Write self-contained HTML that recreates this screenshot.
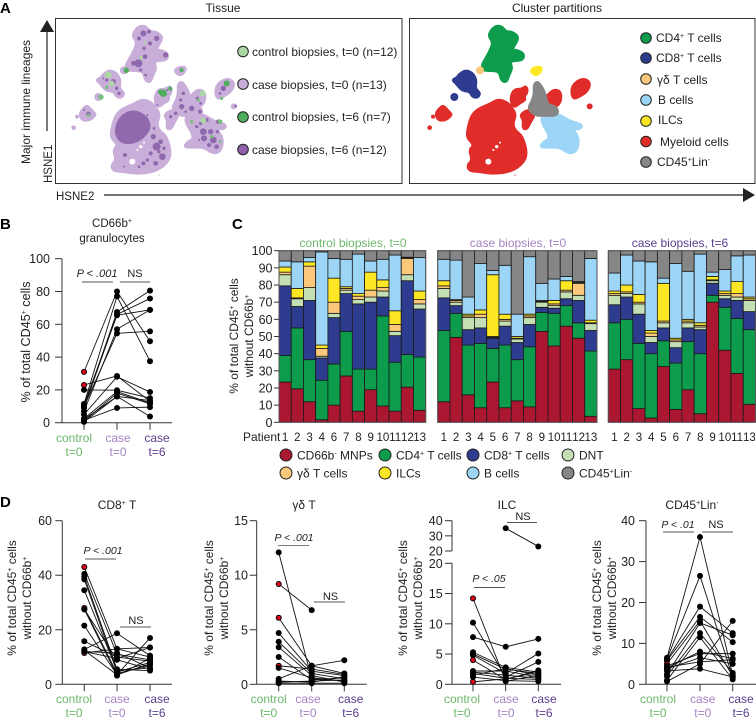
<!DOCTYPE html>
<html lang="en">
<head>
<meta charset="utf-8">
<title>Immune lineage figure</title>
<style>
html,body{margin:0;padding:0;background:#fff}
svg{display:block;font-family:"Liberation Sans","DejaVu Sans",sans-serif;fill:#222}
text{fill:#222}
.panel{font-weight:bold;font-size:15px;fill:#000}
.ctl{fill:#6cb86a}.cs0{fill:#a583c4}.cs6{fill:#5c3d8f}
</style>
</head>
<body>
<svg id="fig" width="756" height="718" viewBox="0 0 756 718" xmlns="http://www.w3.org/2000/svg">
<!-- Panel letters -->
<text class="panel" x="0" y="13">A</text>
<text class="panel" x="0" y="229">B</text>
<text class="panel" x="232" y="229">C</text>
<text class="panel" x="0" y="507">D</text>

<!-- Panel A frame -->
<text x="223" y="12" font-size="12" text-anchor="middle">Tissue</text>
<text x="557" y="12" font-size="12" text-anchor="middle">Cluster partitions</text>
<g id="tissueMap"></g>
<g id="partitionMap"></g>
<rect x="55.5" y="18.5" width="346.5" height="165" fill="none" stroke="#333" stroke-width="1"/>
<rect x="409.5" y="18.5" width="345.5" height="165" fill="none" stroke="#333" stroke-width="1"/>
<line x1="47" y1="131" x2="47" y2="30" stroke="#222" stroke-width="1.2"/>
<polygon points="47,20 40,32 54,32" fill="#222"/>
<line x1="104" y1="195" x2="745" y2="195" stroke="#222" stroke-width="1.2"/>
<polygon points="755,195 743,188 743,202" fill="#222"/>
<text x="56" y="200" font-size="11.5">HSNE2</text>
<text transform="translate(52,183) rotate(-90)" font-size="11.5">HSNE1</text>
<text transform="translate(30,164) rotate(-90)" font-size="12">Major immune lineages</text>

<!-- Tissue legend -->
<g font-size="12">
<circle cx="243" cy="51.5" r="5.3" fill="#a9d8a2" stroke="#222"/>
<text x="252" y="56">control biopsies, t=0 (n=12)</text>
<circle cx="243" cy="84" r="5.3" fill="#c8aed9" stroke="#222"/>
<text x="252" y="89">case biopsies, t=0 (n=13)</text>
<circle cx="243" cy="117" r="5.3" fill="#4fae5e" stroke="#222"/>
<text x="252" y="121">control biopsies, t=6 (n=7)</text>
<circle cx="243" cy="149.5" r="5.3" fill="#8f60a9" stroke="#222"/>
<text x="252" y="154">case biopsies, t=6 (n=12)</text>
</g>

<!-- Cluster legend -->
<g font-size="12">
<circle cx="646" cy="38" r="5.3" fill="#0c9c4c" stroke="#222"/>
<text x="656" y="42">CD4<tspan dy="-4" font-size="7">+</tspan><tspan dy="4"> T cells</tspan></text>
<circle cx="646" cy="58" r="5.3" fill="#2e3c90" stroke="#222"/>
<text x="656" y="62">CD8<tspan dy="-4" font-size="7">+</tspan><tspan dy="4"> T cells</tspan></text>
<circle cx="646" cy="79" r="5.3" fill="#fbc77a" stroke="#222"/>
<text x="657" y="84">γδ T cells</text>
<circle cx="646" cy="100" r="5.3" fill="#9cd5f5" stroke="#222"/>
<text x="658" y="104">B cells</text>
<circle cx="646" cy="121" r="5.3" fill="#fde725" stroke="#222"/>
<text x="658" y="124">ILCs</text>
<circle cx="646" cy="141.5" r="5.3" fill="#e12d2a" stroke="#222"/>
<text x="660" y="146">Myeloid cells</text>
<circle cx="646" cy="162" r="5.3" fill="#868686" stroke="#222"/>
<text x="657" y="166">CD45<tspan dy="-4" font-size="7">+</tspan><tspan dy="4">Lin</tspan><tspan dy="-4" font-size="7">-</tspan></text>
</g>

<!-- Panel B static text -->
<text x="112" y="227" font-size="11.5" text-anchor="middle">CD66b<tspan dy="-4" font-size="7">+</tspan></text>
<text x="112" y="242" font-size="11.5" text-anchor="middle">granulocytes</text>
<text transform="translate(30,342) rotate(-90)" font-size="12.6" text-anchor="middle">% of total CD45<tspan dy="-4" font-size="7">+</tspan><tspan dy="4"> cells</tspan></text>
<text x="97" y="277" font-size="11" font-style="italic" text-anchor="middle">P &lt; .001</text>
<text x="135" y="277" font-size="11" text-anchor="middle">NS</text>
<line x1="82" y1="282" x2="113" y2="282" stroke="#555"/>
<line x1="120" y1="282" x2="150" y2="282" stroke="#555"/>

<!-- Panel C static text -->
<text transform="translate(238,336) rotate(-90)" font-size="12" text-anchor="middle">% of total CD45<tspan dy="-4" font-size="7">+</tspan><tspan dy="4"> cells</tspan></text>
<text transform="translate(253,336) rotate(-90)" font-size="12" text-anchor="middle">without CD66b<tspan dy="-4" font-size="7">+</tspan></text>
<text class="ctl" x="353" y="247" font-size="12" text-anchor="middle">control biopsies, t=0</text>
<text class="cs0" x="518" y="247" font-size="12" text-anchor="middle">case biopsies, t=0</text>
<text class="cs6" x="680" y="247" font-size="12" text-anchor="middle">case biopsies, t=6</text>
<text x="243" y="441" font-size="12">Patient</text>

<g font-size="12">
<circle cx="286" cy="455" r="6" fill="#ab1730" stroke="#222"/>
<text x="297" y="459.5">CD66b<tspan dy="-4" font-size="7">-</tspan><tspan dy="4"> MNPs</tspan></text>
<circle cx="385" cy="455" r="6" fill="#0c9c4c" stroke="#222"/>
<text x="396" y="459.5">CD4<tspan dy="-4" font-size="7">+</tspan><tspan dy="4"> T cells</tspan></text>
<circle cx="473" cy="455" r="6" fill="#2e3c90" stroke="#222"/>
<text x="484" y="459.5">CD8<tspan dy="-4" font-size="7">+</tspan><tspan dy="4"> T cells</tspan></text>
<circle cx="568" cy="455" r="6" fill="#c5dfb5" stroke="#222"/>
<text x="579" y="459.5">DNT</text>
<circle cx="286" cy="473" r="6" fill="#fbc77a" stroke="#222"/>
<text x="297" y="477.5">γδ T cells</text>
<circle cx="385" cy="473" r="6" fill="#fde725" stroke="#222"/>
<text x="396" y="477.5">ILCs</text>
<circle cx="473" cy="473" r="6" fill="#9cd5f5" stroke="#222"/>
<text x="484" y="477.5">B cells</text>
<circle cx="568" cy="473" r="6" fill="#868686" stroke="#222"/>
<text x="579" y="477.5">CD45<tspan dy="-4" font-size="7">+</tspan><tspan dy="4">Lin</tspan><tspan dy="-4" font-size="7">-</tspan></text>
</g>

<!-- Panel D static text -->
<text x="117" y="509" font-size="12" text-anchor="middle">CD8<tspan dy="-4" font-size="7">+</tspan><tspan dy="4"> T</tspan></text>
<text transform="translate(16,598) rotate(-90)" font-size="12" text-anchor="middle">% of total CD45<tspan dy="-4" font-size="7">+</tspan><tspan dy="4"> cells</tspan></text>
<text transform="translate(31,598) rotate(-90)" font-size="12" text-anchor="middle">without CD66b<tspan dy="-4" font-size="7">+</tspan></text>
<text x="103" y="554" font-size="10.5" font-style="italic" text-anchor="middle">P &lt; .001</text>
<line x1="85" y1="559" x2="116" y2="559" stroke="#555"/>
<text x="136" y="624" font-size="11" text-anchor="middle">NS</text>
<line x1="120" y1="627" x2="151" y2="627" stroke="#555"/>

<text x="304" y="509" font-size="12" text-anchor="middle">γδ T</text>
<text transform="translate(213,598) rotate(-90)" font-size="12" text-anchor="middle">% of total CD45<tspan dy="-4" font-size="7">+</tspan><tspan dy="4"> cells</tspan></text>
<text transform="translate(228,598) rotate(-90)" font-size="12" text-anchor="middle">without CD66b<tspan dy="-4" font-size="7">+</tspan></text>
<text x="294" y="541" font-size="10.5" font-style="italic" text-anchor="middle">P &lt; .001</text>
<line x1="278" y1="545.5" x2="309" y2="545.5" stroke="#777"/>
<text x="330.5" y="600" font-size="11" text-anchor="middle">NS</text>
<line x1="314" y1="602" x2="345" y2="602" stroke="#555"/>

<text x="507" y="509" font-size="12" text-anchor="middle">ILC</text>
<text transform="translate(407,598) rotate(-90)" font-size="12" text-anchor="middle">% of total CD45<tspan dy="-4" font-size="7">+</tspan><tspan dy="4"> cells</tspan></text>
<text transform="translate(422,598) rotate(-90)" font-size="12" text-anchor="middle">without CD66b<tspan dy="-4" font-size="7">+</tspan></text>
<text x="489" y="582" font-size="10.5" font-style="italic" text-anchor="middle">P &lt; .05</text>
<line x1="474" y1="587.5" x2="505" y2="587.5" stroke="#555"/>
<text x="523" y="520" font-size="11" text-anchor="middle">NS</text>
<line x1="507" y1="522.5" x2="537" y2="522.5" stroke="#555"/>

<text x="692" y="509" font-size="12" text-anchor="middle">CD45<tspan dy="-4" font-size="7">+</tspan><tspan dy="4">Lin</tspan><tspan dy="-4" font-size="7">-</tspan></text>
<text transform="translate(601,598) rotate(-90)" font-size="12" text-anchor="middle">% of total CD45<tspan dy="-4" font-size="7">+</tspan><tspan dy="4"> cells</tspan></text>
<text transform="translate(616,598) rotate(-90)" font-size="12" text-anchor="middle">without CD66b<tspan dy="-4" font-size="7">+</tspan></text>
<text x="678" y="528" font-size="10.5" font-style="italic" text-anchor="middle">P &lt; .01</text>
<line x1="663" y1="532" x2="694" y2="532" stroke="#555"/>
<text x="716" y="528" font-size="11" text-anchor="middle">NS</text>
<line x1="702" y1="532" x2="733" y2="532" stroke="#555"/>
</svg>

<script>
/* ---------- Panel A: HSNE embedding outlines [hsne2, hsne1] and dots [hsne2, hsne1, radius] ---------- */
const cd4Outline = [[270,95],[285,78],[305,78],[318,95],[335,95],[357,110],[345,135],[335,150],[350,150],[372,160],[370,180],[345,182],[330,185],[337,205],[327,225],[320,247],[303,242],[298,215],[275,212],[248,212],[245,195],[260,170],[273,145],[278,125],[266,110]];
const cd8Outline = [[175,225],[195,210],[217,218],[230,240],[225,265],[242,280],[232,294],[216,290],[210,275],[185,272],[168,250],[156,240],[172,232]];
const cd8Dots = [[163,291,12]];
const gdDots = [[240,211,12]];
const ilcOutline = [[390,212],[405,201],[427,201],[420,220],[405,227]];
const greyOutline = [[401,255],[412,243],[427,262],[437,285],[442,315],[472,320],[474,347],[435,347],[405,347],[383,325],[398,300],[403,275]];
const bOutline = [[423,350],[450,343],[480,343],[507,363],[547,373],[542,387],[517,387],[532,405],[537,430],[527,457],[505,460],[480,442],[450,442],[418,442],[433,423],[448,418],[443,395],[428,375]];
const myeloidMainOutline = [[201,395],[212,350],[232,327],[270,312],[295,297],[322,307],[338,325],[348,345],[338,372],[347,393],[368,408],[383,465],[362,498],[322,518],[270,521],[240,515],[207,513],[202,495],[217,480],[207,450],[222,435],[202,415]];
const myeloidArmA = [[333,285],[345,267],[365,268],[378,257],[384,275],[372,290],[377,300],[355,312],[345,322],[333,310]];
const myeloidArmB = [[433,295],[460,268],[482,273],[484,300],[472,320],[450,317],[433,312]];
const myeloidArmC = [[360,345],[380,330],[402,333],[402,350],[392,365],[382,387],[368,387],[370,360]];
const myeloidRight = [[513,265],[530,243],[555,235],[572,250],[562,275],[535,292],[518,297]];
const myeloidLeft = [[106,340],[120,323],[130,316],[147,335],[157,345],[135,362],[113,360]];
const myeloidDots = [[569,319,9],[99,350,6],[89,383,7],[345,525,2]];
const holeDots = [[265,485,9],[290,440,5],[300,428,3],[280,450,3]];
const tissueDarkOutline = [[213,395],[228,350],[268,330],[308,350],[318,380],[308,400],[288,420],[258,430],[228,425]];
const tissueDarkDots = [[338,440,12],[355,470,10],[328,410,8],[298,490,6],[243,465,6],[350,425,7],[320,460,6],[335,490,7],[310,480,5],[360,445,5],[285,500,4],[345,455,5],
  [298,100,9],[285,115,6],[338,115,8],[315,95,6],[283,190,12],[268,190,7],[303,170,7],[365,165,8],[318,130,6],[300,145,5],[290,210,5],[305,225,4],
  [208,245,8],[218,265,5],[188,240,5],[178,235,3],[225,280,5],[538,265,8],[550,250,4],[528,280,4],
  [418,280,5],[410,300,5],[413,320,8],[443,325,8],[468,335,6],[425,335,4],[395,340,5],[380,350,5],[460,295,5],[470,310,4],
  [478,395,10],[508,420,10],[523,365,7],[458,380,5],[488,360,6],[518,440,7],[480,415,9],[500,395,8],[495,435,6],[470,370,5],[520,395,5],[465,420,3],
  [133,342,7],[120,330,3],[575,318,4],[355,280,3],[370,270,3],[340,315,3],[410,210,4],[310,375,5],[330,385,4],[310,345,3],[240,500,3]];
const tissueLightGreen = [[476,280,9],[478,362,9],[193,225,10],[203,250,8],[303,128,4],[291,173,5]];
const tissueMidGreen = [[171,291,8],[188,262,5],[133,345,5],[528,365,7],[503,410,5],[533,295,5],[528,425,4],[463,300,5],[443,365,5]];
const tissueDarkGreen = [[247,211,8],[358,280,11],[379,266,6],[548,250,9],[413,210,6],[350,276,8]];

function tissueX(h){return 44+h/3}
function partitionX(h){return 400+h/3}
function hsneY(h){return h/3}
function hsneR(h){return h/3}

const NS='http://www.w3.org/2000/svg';
const fig=document.getElementById('fig');
function make(tag,parent,attrs,txt){
  const el=document.createElementNS(NS,tag);
  for(const k in attrs)el.setAttribute(k,attrs[k]);
  if(txt!==undefined)el.textContent=txt;
  parent.appendChild(el);
  return el;
}
const tissueMap=document.getElementById('tissueMap');
const partitionMap=document.getElementById('partitionMap');

function drawDots(parent,dots,xf,color,name){
  dots.forEach(function(b){
    const el=make('circle',parent,{cx:xf(b[0]),cy:hsneY(b[1]),r:hsneR(b[2]),fill:color});
    
    
  });
}
/* smooth closed outline: quadratic curves through edge midpoints */
function drawOutline(parent,outline,xf,color,name){
  const pts=outline.map(function(p){return [xf(p[0]),hsneY(p[1])]});
  const n=pts.length;
  function mid(a,b){return ((a[0]+b[0])/2)+','+((a[1]+b[1])/2)}
  let d='M'+mid(pts[n-1],pts[0]);
  for(let i=0;i<n;i++){
    d+=' Q'+pts[i][0]+','+pts[i][1]+' '+mid(pts[i],pts[(i+1)%n]);
  }
  d+='Z';
  const el=make('path',parent,{d:d,fill:color,stroke:color,'stroke-width':2.5,'stroke-linejoin':'round'});
  
  
}
const tissueLight='#c8aed9';
[cd4Outline,cd8Outline,ilcOutline,greyOutline,bOutline,myeloidMainOutline,myeloidArmA,myeloidArmB,myeloidArmC,myeloidRight,myeloidLeft].forEach(function(o){
  drawOutline(tissueMap,o,tissueX,tissueLight,'tissue-cell-cloud');
});
drawDots(tissueMap,cd8Dots,tissueX,tissueLight,'tissue-cell-cloud-dot');
drawDots(tissueMap,gdDots,tissueX,tissueLight,'tissue-cell-cloud-dot');
drawDots(tissueMap,myeloidDots,tissueX,tissueLight,'tissue-cell-cloud-dot');
drawDots(tissueMap,holeDots,tissueX,'#ffffff','tissue-gap');
drawOutline(tissueMap,tissueDarkOutline,tissueX,'#9068ad','tissue-case-t6-core');
drawDots(tissueMap,tissueDarkDots,tissueX,'#9068ad','tissue-case-t6-cells');
drawDots(tissueMap,tissueLightGreen,tissueX,'#a9d8a2','tissue-control-t0-cells');
drawDots(tissueMap,tissueMidGreen,tissueX,'#74c07a','tissue-control-mid-cells');
drawDots(tissueMap,tissueDarkGreen,tissueX,'#4fae5e','tissue-control-t6-cells');

[myeloidMainOutline,myeloidArmA,myeloidArmB,myeloidArmC,myeloidRight,myeloidLeft].forEach(function(o){
  drawOutline(partitionMap,o,partitionX,'#e12d2a','myeloid-cluster');
});
drawDots(partitionMap,myeloidDots,partitionX,'#e12d2a','myeloid-cluster-dot');
drawDots(partitionMap,holeDots,partitionX,'#ffffff','myeloid-gap');
drawOutline(partitionMap,bOutline,partitionX,'#9cd5f5','b-cluster');
drawOutline(partitionMap,greyOutline,partitionX,'#868686','lin-cluster');
drawOutline(partitionMap,cd4Outline,partitionX,'#0c9c4c','cd4-cluster');
drawOutline(partitionMap,cd8Outline,partitionX,'#2e3c90','cd8-cluster');
drawDots(partitionMap,cd8Dots,partitionX,'#2e3c90','cd8-cluster-dot');
drawDots(partitionMap,gdDots,partitionX,'#fbc77a','gd-cluster');
drawOutline(partitionMap,ilcOutline,partitionX,'#fde725','ilc-cluster');

/* ---------- Panel B values: [control t0, case t0, case t6] ---------- */
const bRows = [[31,80,49.7],[11.5,77,37.5],[9.5,67.5,80.5],[9,66,75.7],[11,65.5,68.8],[7,57,68.8],[9.8,54.5,55.7],[23,28.5,13],[20,19.8,15],[5,28,18.7],[2.5,19,12],[1,18,11.5],[0.5,16,13.5],[1.5,9,9.5],[2,16,3.8]];
const bRedFlags = [1,1,0,0,0,0,0,1,0,0,0,0,0,0,0];
const bTicks = [0,20,40,60,80,100];

/* ---------- Panel D values ---------- */
const d1Rows = [[43,13,10],[40.5,11,9],[39.5,5.5,5],[38.5,4.5,8],[34.5,5,6],[28,4,7],[27.5,3.2,9.5],[27.5,9,5.5],[21.5,3.5,7.5],[15.8,10,8.5],[12.8,18.7,10.5],[12,9.5,13.5],[11.5,13,13.5],[12.5,3.5,17],[12,11.5,6]];
const d1RedFlags = [1,0,0,0,0,1,0,0,0,0,0,0,1,0,0];
const d1Ticks = [0,20,40,60];

const d2Rows = [[12.1,0.5,0.3],[9.2,6.8,null],[6.1,1.7,1],[4.7,1.2,0.8],[3.9,1,0.5],[3.4,0.8,0.2],[2.5,0.4,0.6],[1.7,1.4,0.9],[1.5,0.6,0.3],[0.5,1.7,2.2],[0.3,0.2,0.7],[0.2,0.3,0.4],[0.1,0.1,0.1]];
const d2RedFlags = [0,1,1,0,0,0,0,1,0,0,0,0,0];
const d2Ticks = [0,5,10,15];

const d3Rows = [[14.2,0.5,1.5],[10.2,1.2,3.7],[7.8,6.2,7.5],[5.3,2.8,2],[5,2.5,1.8],[4.8,1.8,5.1],[4,0.8,2.3],[2.2,2.2,1.2],[2,1.5,1],[1.8,1,0.8],[1.5,2.6,1.5],[1.2,0.6,0.5],[0.4,0.9,2],[null,35,23]];
const d3RedFlags = [1,0,0,0,0,0,1,0,0,0,0,0,1,0];
const d3LowerTicks = [0,5,10,15,20];
const d3UpperTicks = [20,30,40];

const d4Rows = [[6.5,36,2.3],[6.2,26.5,1.8],[6,19,12.5],[5.8,16.5,10.3],[5,15.5,2],[4.5,7.5,7.5],[4,8,6.3],[3.8,6.5,5],[2.5,15,12],[2,12.5,2.8],[1,11.5,1.2],[0.7,5,15.5],[4.2,5.5,6],[3.3,3.8,1.8]];
const d4RedFlags = [0,0,0,0,1,0,0,0,0,0,0,0,0,0];
const d4Ticks = [0,10,20,30,40];

function drawAxis(prefix,axX,yTop,yBot,xEnd,tickVals,yf,labelX,cats){
  let el=make('line',fig,{x1:axX,y1:yTop,x2:axX,y2:yBot,stroke:'#333'});
  
  
  el=make('line',fig,{x1:axX,y1:yBot,x2:xEnd,y2:yBot,stroke:'#333'});
  
  
  tickVals.forEach(function(v){
    const t=make('line',fig,{x1:axX-7,y1:yf(v),x2:axX,y2:yf(v),stroke:'#333'});
    
    
    const l=make('text',fig,{x:labelX,y:yf(v)+4.5,'font-size':12.5,'text-anchor':'end'},String(v));
    
    
  });
  cats.forEach(function(c){
    const t=make('line',fig,{x1:c,y1:yBot,x2:c,y2:yBot+7,stroke:'#333'});
    
    
  });
}
function drawCats(prefix,ctlX,cs0X,cs6X,y1,y2){
  const rows=[['control','t=0',ctlX,'ctl'],['case','t=0',cs0X,'cs0'],['case','t=6',cs6X,'cs6']];
  rows.forEach(function(r){
    const a=make('text',fig,{x:r[2],y:y1,'font-size':12,'text-anchor':'middle',class:r[3]},r[0]);
    
    
    const b=make('text',fig,{x:r[2],y:y2,'font-size':12,'text-anchor':'middle',class:r[3]},r[1]);
    
    
  });
}
function drawPairs(prefix,rows,flags,yf,xs){
  rows.forEach(function(row){
    for(let i=0;i<2;i++){
      if(row[i]===null||row[i+1]===null)continue;
      const ln=make('line',fig,{x1:xs[i],y1:yf(row[i]),x2:xs[i+1],y2:yf(row[i+1]),stroke:'#111','stroke-width':0.9});
      
      
    }
  });
  rows.forEach(function(row,ri){
    row.forEach(function(v,i){
      if(v===null)return;
      const red=(i===0&&flags[ri]);
      const c=make('circle',fig,{cx:xs[i],cy:yf(v),r:3,fill:'#000'});
      
      
      if(red){
        const d=make('circle',fig,{cx:xs[i],cy:yf(v),r:2,fill:'#e3061b'});
        
        
      }
    });
  });
}
function linY(max,yTop,yBot){return function(v){return yBot-(v/max)*(yBot-yTop)}}

/* B */
const bY=linY(100,258.7,422.7);
const bX=[84,117,150];
drawAxis('b',62,258.7,422.7,172,bTicks,bY,50,bX);
drawCats('b',74,118,157,442,456);
drawPairs('b',bRows,bRedFlags,bY,bX);

/* D1 */
const d1Y=linY(60,520.7,684.3);
const d1X=[84.3,117,150];
drawAxis('d1',62.3,520.7,684.3,172,d1Ticks,d1Y,52,d1X);
drawCats('d1',74,117,157,703,717);
drawPairs('d1',d1Rows,d1RedFlags,d1Y,d1X);

/* D2 */
const d2Y=linY(15,520.7,684.3);
const d2X=[278.7,311.7,344.3];
drawAxis('d2',256.7,520.7,684.3,366.7,d2Ticks,d2Y,248,d2X);
drawCats('d2',268.7,308,350.7,703,717);
drawPairs('d2',d2Rows,d2RedFlags,d2Y,d2X);

/* D3: broken axis */
function d3Y(v){return 684.3-(v/20)*121}
function d3UpperY(v){return 551-((v-20)/20)*30.3}
function d3Pt(v){return v>20?d3UpperY(v):d3Y(v)}
const d3X=[473,505.7,538.3];
drawAxis('d3',452,563.3,684.3,561,d3LowerTicks,d3Y,442.7,d3X);
let d3Seg=make('line',fig,{x1:452,y1:d3UpperY(40),x2:452,y2:d3UpperY(20),stroke:'#333'});


d3UpperTicks.forEach(function(v){
  const t=make('line',fig,{x1:445,y1:d3UpperY(v),x2:452,y2:d3UpperY(v),stroke:'#333'});
  
  
  const l=make('text',fig,{x:442.7,y:d3UpperY(v)+4.5,'font-size':12.5,'text-anchor':'end'},String(v));
  
  
});
drawCats('d3',462,506,544,703,717);
drawPairs('d3',d3Rows,d3RedFlags,d3Pt,d3X);

/* D4 */
const d4Y=linY(40,520.7,684.3);
const d4X=[667,700,732.7];
drawAxis('d4',646,520.7,684.3,756,d4Ticks,d4Y,635,d4X);
drawCats('d4',658,702.7,741,703,717);
drawPairs('d4',d4Rows,d4RedFlags,d4Y,d4X);

/* ---------- Panel C: cumulative tops per patient, bottom to top:
   MNP, CD4, CD8, DNT, gd, ILC, B, Lin ---------- */
const stackColors = ['#ab1730','#0c9c4c','#2e3c90','#c5dfb5','#fbc77a','#fde725','#9cd5f5','#868686'];
const stackNames = ['mnp','cd4','cd8','dnt','gd','ilc','b','lin'];
const controlPatients = ['1','2','3','4','6','7','8','9','10','11','12','13'];
const controlTops = [
 [23.5,39,79.5,86,87.5,90.5,94,100],[19.5,55,67.5,72,72.5,78,93.5,100],[12,36.5,71,78.5,91,93.5,96,100],[1.5,24.5,37.5,38.5,43,45,99.3,100],
 [10,34,61,63.5,70,84,95.5,100],[27,53,75,77,78,79,95,100],[6.5,31,69,71.5,73.5,75,98,100],[19,31,70,73,77,87.5,94,100],
 [9.5,62,73,76.5,78.5,83,95,100],[6.5,35,50.5,53,57,65,97.5,100],[20.5,39.5,82.5,86,95.5,96,96.2,100],[7,38,66,69,71.5,76.5,96,100]];
const caseT0Patients = ['1','2','3','4','5','6','7','8','9','10','11','12','13'];
const caseT0Tops = [
 [12,53.5,72.5,78,79.5,82.5,95,100],[49.5,63.5,68,70,71,71.5,94.5,100],[16,45,54,61,62,63,73,100],[8.5,46,55,61,63,65.5,92.5,100],
 [23.5,43,49,49.5,50,86,88.5,100],[8.5,45,56,59,60,63,91.5,100],[12.5,36.5,46.5,48.5,49,50,63,100],[9,44,57,61,62,63,96.5,100],
 [53,64,67,70,70.5,71,81,100],[44.5,63.5,66.5,68,69,71,83.5,100],[56,68,72,76,77,82.5,85,100],[49,58,71,74,81,81.5,82,100],[3.5,41.5,53.5,57.5,58,59.5,95.5,100]];
const caseT6Patients = ['1','2','3','4','5','6','7','8','9','10','11','13'];
const caseT6Tops = [
 [31,58,68.5,74,75,76.5,87,100],[36.5,60,73,75,76,80,97.5,100],[8,46,63,69,70,74.5,94,100],[2.5,40,46.5,50,52,53.5,93.5,100],
 [32.5,47.5,55,58,59,81,84,100],[7.5,34.5,43.5,47,48,49,92.5,100],[19,47,55,58,59,60,88,100],[5,40,54,55.5,56.5,58,98,100],
 [70,74,81,82.5,83,85,87.5,100],[42,67,72,74,75,76.5,89,100],[28.5,60.5,71,73,75,82,97,100],[10.5,54,64.5,71,72,73,97.5,100]];
const percentTicks = [0,10,20,30,40,50,60,70,80,90,100];

const cY=linY(100,250.7,422.3);
function drawStack(prefix,tops,labels,left,right){
  const w=(right-left)/tops.length;
  const g=make('g',fig,{});
  
  
  tops.forEach(function(bar,i){
    bar.forEach(function(top,s){
      const bottom=s===0?0:bar[s-1];
      const r=make('rect',g,{x:left+i*w,y:cY(top),width:w,height:cY(bottom)-cY(top),fill:stackColors[s],stroke:'#1a1a1a','stroke-width':0.8});
      
      
    });
    const t=make('text',fig,{x:left+(i+0.5)*w,y:441,'font-size':11.5,'text-anchor':'middle'},labels[i]);
    
    
  });
  const f=make('rect',fig,{x:left,y:cY(100),width:right-left,height:cY(0)-cY(100),fill:'none',stroke:'#555','stroke-width':1});
  
  
}
drawStack('c-control',controlTops,controlPatients,279,425.7);
drawStack('c-case-t0',caseT0Tops,caseT0Patients,437.7,597);
drawStack('c-case-t6',caseT6Tops,caseT6Patients,608.3,755.5);
percentTicks.forEach(function(v){
  const t=make('line',fig,{x1:274,y1:cY(v),x2:279,y2:cY(v),stroke:'#333'});
  
  
  const l=make('text',fig,{x:272.5,y:cY(v)+4.5,'font-size':12.5,'text-anchor':'end'},String(v));
  
  
});
</script>
</body>
</html>
